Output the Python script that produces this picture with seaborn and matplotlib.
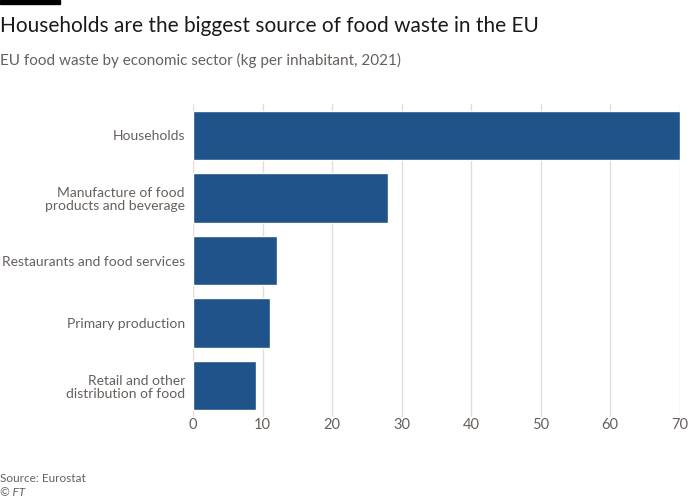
import matplotlib.pyplot as plt
import pandas as pd
import seaborn as sns

sectors = ['Households', 'Manufacture of food\nproducts and beverage',
           'Restaurants and food services', 'Primary production',
           'Retail and other\ndistribution of food']
kg_per_inhabitant = [70, 28, 12, 11, 9]
x_ticks = [0, 10, 20, 30, 40, 50, 60, 70]

df = pd.DataFrame({'sector': sectors, 'kg': kg_per_inhabitant})

sns.set_style('white')
plt.rcParams['font.family'] = ['Lato', 'DejaVu Sans']

fig = plt.figure(figsize=(7, 5), dpi=100)
ax = fig.add_axes([0.276, 0.166, 0.695, 0.626])

sns.barplot(data=df, x='kg', y='sector', color='#1f5389', saturation=1,
            width=0.79, ax=ax, zorder=3)

ax.set_xlim(0, 70)
ax.set_ylim(4.5, -0.5)
ax.set_xticks(x_ticks)
ax.set_xlabel('')
ax.set_ylabel('')
ax.grid(axis='x', color='#e6dcd3', linewidth=1, zorder=0)
for s in ax.spines.values():
    s.set_visible(False)
ax.tick_params(axis='y', length=0, labelsize=10, labelcolor='#66605c', pad=6)
ax.tick_params(axis='x', length=0, labelsize=10.5, labelcolor='#66605c', pad=1)
for lbl in ax.get_yticklabels():
    lbl.set_linespacing(1.1)

# header and footer
fig.patches.append(plt.Rectangle((0, 0.992), 0.086, 0.008, transform=fig.transFigure,
                                 color='black'))
fig.text(0.0, 0.948, 'Households are the biggest source of food waste in the EU',
         fontsize=15, color='#1a1a1a', va='center')
fig.text(0.0, 0.879, 'EU food waste by economic sector (kg per inhabitant, 2021)',
         fontsize=11, color='#66605c', va='center')
fig.text(0.0, 0.044, 'Source: Eurostat', fontsize=8.5, color='#66605c', va='center')
fig.text(0.0, 0.014, '© FT', fontsize=8.5, color='#66605c', va='center', style='italic')

fig.savefig('out.png', dpi=100, facecolor='white')
